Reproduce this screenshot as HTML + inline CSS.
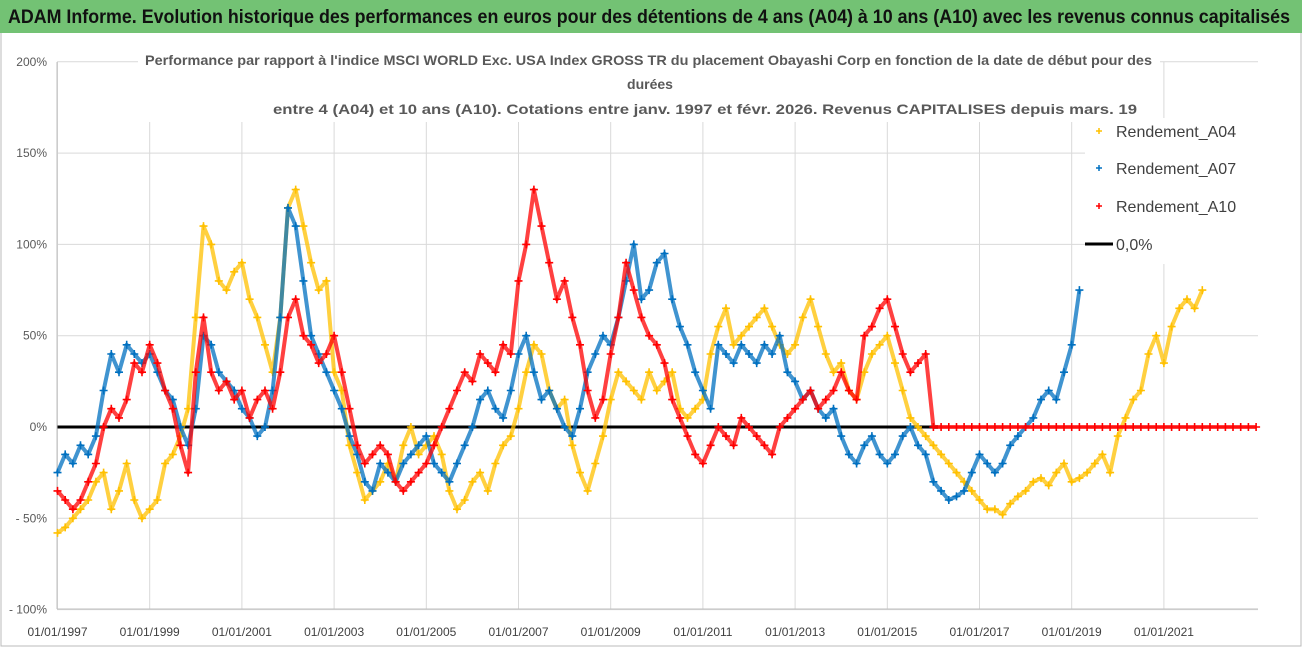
<!DOCTYPE html>
<html><head><meta charset="utf-8"><style>
html,body{margin:0;padding:0;background:#fff;}
svg{display:block;font-family:"Liberation Sans",sans-serif;}
</style></head><body>
<svg id="chart" width="1302" height="647" viewBox="0 0 1302 647" xmlns="http://www.w3.org/2000/svg">
<rect x="0" y="0" width="1302" height="647" fill="#fff"/>
<rect x="1" y="1" width="1300" height="645" fill="none" stroke="#bbb"/>
<rect x="0" y="0" width="1302" height="33" fill="#73c274"/>
<text x="8" y="23" font-size="19" font-weight="bold" fill="#111" textLength="1282" lengthAdjust="spacingAndGlyphs">ADAM Informe. Evolution historique des performances en euros pour des détentions de 4 ans (A04) à 10 ans (A10) avec les revenus connus capitalisés</text>
<g id="grid"></g>
<g id="yticks"></g>
<g id="xticks"></g>
<rect x="138" y="45" width="1022" height="77" fill="#fff"/>
<g font-size="14" font-weight="bold" fill="#595959">
<text x="145" y="65" textLength="1007" lengthAdjust="spacingAndGlyphs">Performance par rapport à l'indice MSCI WORLD Exc. USA Index GROSS TR  du placement Obayashi Corp en fonction de la date de début pour des</text>
<text x="650" y="89" text-anchor="middle">durées</text>
<text x="273" y="114" textLength="864" lengthAdjust="spacingAndGlyphs">entre 4 (A04) et 10 ans (A10). Cotations entre janv. 1997 et févr. 2026. Revenus CAPITALISES depuis mars. 19</text>
</g>
<g id="series"></g>
<rect x="1085" y="118" width="205" height="146" fill="#fff"/>
<g font-size="16" fill="#404040">
<g><path d="M1096 131h6M1099 128v6" stroke="#ffc000" stroke-width="1.5"/><text x="1116" y="137">Rendement_A04</text></g>
<g><path d="M1096 168h6M1099 165v6" stroke="#0070c0" stroke-width="1.5"/><text x="1116" y="174">Rendement_A07</text></g>
<g><path d="M1096 206h6M1099 203v6" stroke="#ff0000" stroke-width="1.5"/><text x="1116" y="212">Rendement_A10</text></g>
<g><line x1="1085" y1="244" x2="1113" y2="244" stroke="#000" stroke-width="3"/><text x="1116" y="250">0,0%</text></g>
</g>
</svg>
<script>
const start = 1997;
const step = 1/6;
const yTicks = [200,150,100,50,0,-50,-100];
const yTickLabels = ["200%","150%","100%","50%","0%","- 50%","- 100%"];
const xTickYears = [1997,1999,2001,2003,2005,2007,2009,2011,2013,2015,2017,2019,2021];
const xTickLabels = ["01/01/1997","01/01/1999","01/01/2001","01/01/2003","01/01/2005","01/01/2007","01/01/2009","01/01/2011","01/01/2013","01/01/2015","01/01/2017","01/01/2019","01/01/2021"];
const a04 = [-58,-55,-50,-45,-40,-30,-25,-45,-35,-20,-40,-50,-45,-40,-20,-15,-5,10,60,110,100,80,75,85,90,70,60,45,30,60,120,130,110,90,75,80,30,20,-10,-25,-40,-35,-30,-20,-30,-10,0,-15,-10,-5,-15,-35,-45,-40,-30,-25,-35,-20,-10,-5,10,30,45,40,20,10,15,-10,-25,-35,-20,-5,15,30,25,20,15,30,20,25,30,10,5,10,15,40,55,65,45,50,55,60,65,55,45,40,45,60,70,55,40,30,35,20,15,30,40,45,50,35,20,5,0,-5,-10,-15,-20,-25,-30,-35,-40,-45,-45,-48,-42,-38,-35,-30,-28,-32,-25,-20,-30,-28,-25,-20,-15,-25,-5,5,15,20,40,50,35,55,65,70,65,75];
const a07 = [-25,-15,-20,-10,-15,-5,20,40,30,45,40,35,40,30,20,15,0,-10,10,50,45,30,25,20,10,5,-5,0,20,60,120,110,80,50,40,30,20,10,-5,-15,-30,-35,-20,-25,-30,-20,-15,-10,-5,-20,-25,-30,-20,-10,0,15,20,10,5,20,40,50,30,15,20,10,0,-5,10,30,40,50,45,60,80,100,70,75,90,95,70,55,45,30,20,10,45,40,35,45,40,35,45,40,50,30,25,15,20,10,5,10,-5,-15,-20,-10,-5,-15,-20,-15,-5,0,-10,-15,-30,-35,-40,-38,-35,-25,-15,-20,-25,-20,-10,-5,0,5,15,20,15,30,45,75];
const a10 = [-35,-40,-45,-40,-30,-20,0,10,5,15,35,30,45,35,20,10,-10,-25,30,60,30,20,25,15,20,5,15,20,10,30,60,70,50,45,35,40,50,30,10,-10,-20,-15,-10,-15,-30,-35,-30,-25,-20,-10,0,10,20,30,25,40,35,30,45,40,80,100,130,110,90,70,80,60,45,20,5,15,40,60,90,75,60,50,45,35,15,5,-5,-15,-20,-10,0,-5,-10,5,0,-5,-10,-15,0,5,10,15,20,10,15,20,30,20,15,50,55,65,70,55,40,30,35,40,0,0,0,0,0,0,0,0,0,0,0,0,0,0,0,0,0,0,0,0,0,0,0,0,0,0,0,0,0,0,0,0,0,0,0,0,0,0,0,0,0,0,0];
const zeroLine = [0, 0];
const zeroLineYears = [1997, 2016.1];

const NS = "http://www.w3.org/2000/svg";
const X0 = 57.5, PXY = 46.1, Y0 = 427, PXP = 91.3/50;
function xs(yr){ return X0 + (yr - 1997) * PXY; }
function ys(v){ return Y0 - v * PXP; }
function mk(tag, attrs, parent){ const e = document.createElementNS(NS, tag); for (const k in attrs) e.setAttribute(k, attrs[k]); parent.appendChild(e); return e; }

const grid = document.getElementById('grid');
const yg = document.getElementById('yticks');
const xg = document.getElementById('xticks');
yTicks.forEach((t, i) => {
  const l = mk('line', {x1: 57, x2: 1258, y1: ys(t), y2: ys(t), stroke: '#d9d9d9', 'stroke-width': 1}, grid);
  
  
  const tx = mk('text', {x: 47, y: ys(t) + 4, 'text-anchor': 'end', 'font-size': 12, fill: '#595959'}, yg);
  tx.textContent = yTickLabels[i];
  
  
});
xTickYears.forEach((yr, i) => {
  const l = mk('line', {x1: xs(yr), x2: xs(yr), y1: 62, y2: 609, stroke: '#d9d9d9', 'stroke-width': 1}, grid);
  
  
  const tx = mk('text', {x: xs(yr), y: 636, 'text-anchor': 'middle', 'font-size': 12, fill: '#404040'}, xg);
  tx.textContent = xTickLabels[i];
  
  
});
const ax = mk('line', {x1: 57, x2: 57, y1: 62, y2: 609, stroke: '#bfbfbf', 'stroke-width': 1}, grid);


const ax2 = mk('line', {x1: 57, x2: 1258, y1: 609, y2: 609, stroke: '#bfbfbf', 'stroke-width': 1}, grid);



const sg = document.getElementById('series');
function drawSeries(vals, color, name){
  const g = mk('g', {}, sg);
  
  
  const pts = vals.map((v, i) => xs(start + i*step).toFixed(1) + ',' + ys(v).toFixed(1)).join(' ');
  const pl = mk('polyline', {points: pts, fill: 'none', stroke: color, 'stroke-width': 4, 'stroke-opacity': 0.75, 'stroke-linejoin': 'round'}, g);
  
  
  let d = '';
  vals.forEach((v, i) => {
    const x = xs(start + i*step), y = ys(v);
    d += 'M' + (x-4).toFixed(1) + ' ' + y.toFixed(1) + 'h8M' + x.toFixed(1) + ' ' + (y-4).toFixed(1) + 'v8';
  });
  const p = mk('path', {d: d, stroke: color, 'stroke-width': 1.6, fill: 'none'}, g);
  
  
}
const zl = mk('line', {x1: xs(zeroLineYears[0]), x2: xs(zeroLineYears[1]), y1: ys(zeroLine[0]), y2: ys(zeroLine[1]), stroke: '#000', 'stroke-width': 3}, sg);


drawSeries(a04, '#ffc000', 'series-a04');
drawSeries(a07, '#0070c0', 'series-a07');
drawSeries(a10, '#ff0000', 'series-a10');
</script>
</body></html>
